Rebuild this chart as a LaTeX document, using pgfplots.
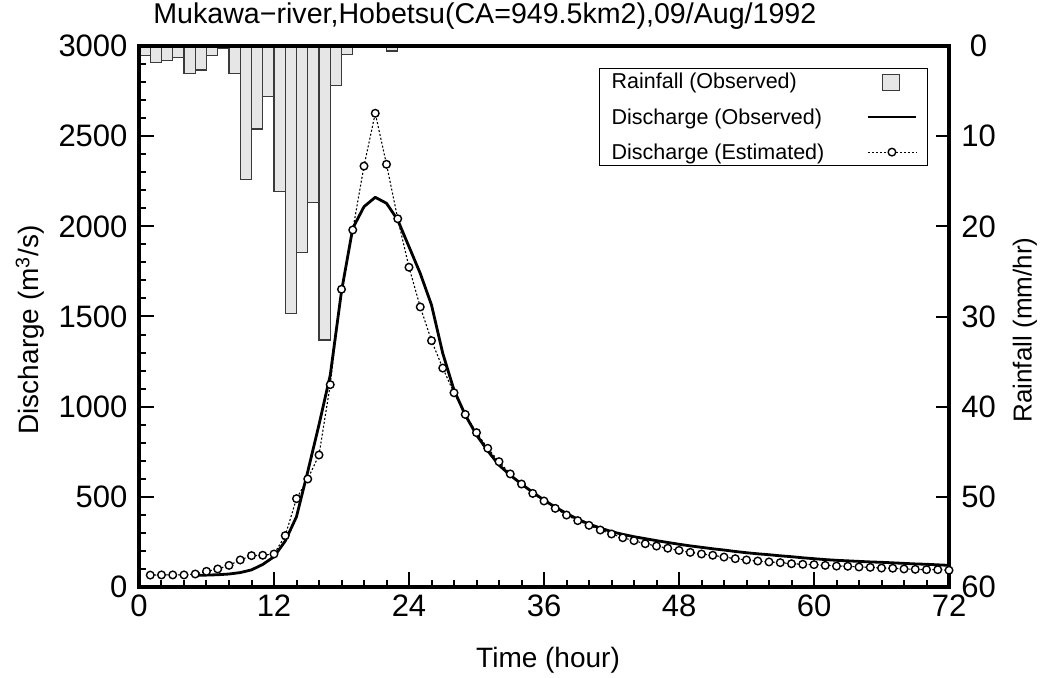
\documentclass[border=0pt]{standalone}
\usepackage{fontspec}
\setmainfont{Liberation Sans}
\usepackage{pgfplots}
\pgfplotsset{compat=1.18}
\definecolor{barfill}{HTML}{E6E6E6}
\definecolor{baredge}{HTML}{3A3A3A}
\begin{document}
\begin{tikzpicture}
\useasboundingbox (-139pt,-90pt) rectangle (912pt,587pt);
% ---------- Rainfall axis (right, reversed) ----------
\begin{axis}[
  at={(0pt,0pt)}, anchor=south west,
  scale only axis, width=810pt, height=541pt,
  xmin=0, xmax=72, ymin=0, ymax=60,
  y dir=reverse,
  hide x axis,
  axis y line*=right,
  axis line style={line width=3.2pt},
  ytick={0,10,...,60},
  tick align=inside,
  major tick length=13pt,
  tick style={line width=2pt, black},
  /pgf/number format/assume math mode=true,
  yticklabel style={font=\fontsize{31}{35}\selectfont, text width=46pt, align=center, anchor=west, xshift=3pt},
  ylabel={Rainfall (mm/hr)},
  ylabel style={font=\fontsize{26}{30}\selectfont, at={(axis description cs:1.0938,0.475)}, anchor=center, rotate=0},
  clip=false,
]
\addplot[ybar, bar width=1, fill=barfill, draw=baredge, line width=1.2pt] coordinates {
(0.5,1.03) (1.5,1.85) (2.5,1.62) (3.5,1.25) (4.5,3.03) (5.5,2.66) (6.5,1.03) (7.5,0.3)
(8.5,3.03) (9.5,14.8) (10.5,9.2) (11.5,5.6) (12.5,16.1) (13.5,29.7) (14.5,22.9) (15.5,17.4)
(16.5,32.6) (17.5,4.4) (18.5,0.9) (22.5,0.55)
};
\end{axis}
% ---------- Discharge axis (left) ----------
\begin{axis}[
  at={(0pt,0pt)}, anchor=south west,
  scale only axis, width=810pt, height=541pt,
  xmin=0, xmax=72, ymin=0, ymax=3000,
  xtick={0,12,...,72}, minor x tick num=5,
  ytick={0,500,...,3000}, minor y tick num=4,
  xtick pos=bottom, ytick pos=left,
  tick align=inside,
  major tick length=15pt, minor tick length=7pt,
  tick style={line width=2pt, black},
  /pgf/number format/assume math mode=true,
  /pgf/number format/1000 sep={},
  ticklabel style={font=\fontsize{31}{35}\selectfont},
  xticklabel style={yshift=-4pt},
  yticklabel style={xshift=-8pt},
  xlabel={Time (hour)},
  xlabel style={font=\fontsize{28}{32}\selectfont, at={(axis description cs:0.505,-0.135)}, anchor=center},
  ylabel={Discharge (m\textsuperscript{3}/s)},
  ylabel style={font=\fontsize{28}{32}\selectfont, at={(axis description cs:-0.1346,0.475)}, anchor=center},
  title={Mukawa−river,Hobetsu(CA=949.5km2),09/Aug/1992},
  title style={font=\fontsize{28.6}{32}\selectfont, at={(axis description cs:0.427,1.0444)}, anchor=center},
  legend plot pos=right,
  legend cell align=left,
  legend style={at={(0.974,0.9593)}, anchor=north east, draw=black, line width=0.8pt,
    font=\fontsize{21.5}{25}\selectfont, row sep=14pt, inner xsep=10pt, inner ysep=3pt,
    /tikz/column sep=40pt},
  legend image code/.code={\draw[mark repeat=2,mark phase=2,#1] plot coordinates {(0cm,0cm) (0.85cm,0cm) (1.7cm,0cm)};},
  clip=false,
]
\addlegendimage{legend image code/.code={\draw[white,opacity=0] (0cm,0cm) -- (1.7cm,0cm); \draw[fill=barfill,draw=baredge,line width=0.8pt,opacity=1] (0.5cm,-0.28cm) rectangle (1.1cm,0.28cm);}}
\addlegendentry{Rainfall (Observed)}
% observed discharge
\addplot[black, line width=2.8pt, line join=round] coordinates {
(5,64) (6,66) (7,68) (8,72) (9,80) (10,95) (11,125) (12,168) (13,255) (14,390) (15,640) (16,900)
(17,1175) (18,1640) (19,1989) (20,2109) (21,2161) (22,2128) (23,2035) (24,1887) (25,1739) (26,1564)
(27,1296) (28,1092) (29,954) (30,843) (31,755) (32,676) (33,620) (34,571) (35,525) (36,482)
(37,443) (38,408) (39,376) (40,349) (41,327) (42,307) (43,292) (44,279) (45,268) (46,257)
(47,247) (48,237) (49,228) (50,220) (51,212) (52,205) (53,197) (54,190) (55,184) (56,179)
(57,173) (58,168) (59,162) (60,157) (61,152) (62,148) (63,145) (64,142) (65,139) (66,137)
(67,134) (68,131) (69,128) (70,126) (71,123) (72,120)
};
\addlegendentry{Discharge (Observed)}
% estimated discharge
\addplot[black, line width=1.1pt, dash pattern=on 2pt off 2pt, mark=*, mark size=3.8pt,
  mark options={solid, fill=white, draw=black, line width=1.4pt}] coordinates {
(1,66) (2,67) (3,67) (4,67) (5,72) (6,87) (7,100) (8,120) (9,150) (10,174) (11,176) (12,183)
(13,285) (14,490) (15,599) (16,732) (17,1122) (18,1651) (19,1980) (20,2334) (21,2627) (22,2344)
(23,2042) (24,1773) (25,1553) (26,1366) (27,1214) (28,1077) (29,957) (30,856) (31,769) (32,695)
(33,627) (34,571) (35,519) (36,477) (37,436) (38,399) (39,368) (40,342) (41,316) (42,294)
(43,273) (44,257) (45,240) (46,227) (47,215) (48,203) (49,192) (50,183) (51,176) (52,166)
(53,157) (54,150) (55,144) (56,139) (57,135) (58,129) (59,126) (60,124) (61,120) (62,116)
(63,115) (64,111) (65,109) (66,105) (67,104) (68,100) (69,98) (70,96) (71,96) (72,93)
};
\addlegendentry{Discharge (Estimated)}
\draw[line width=3.2pt, line cap=rect] (rel axis cs:0,0) rectangle (rel axis cs:1,1);
\end{axis}
\end{tikzpicture}
\end{document}
